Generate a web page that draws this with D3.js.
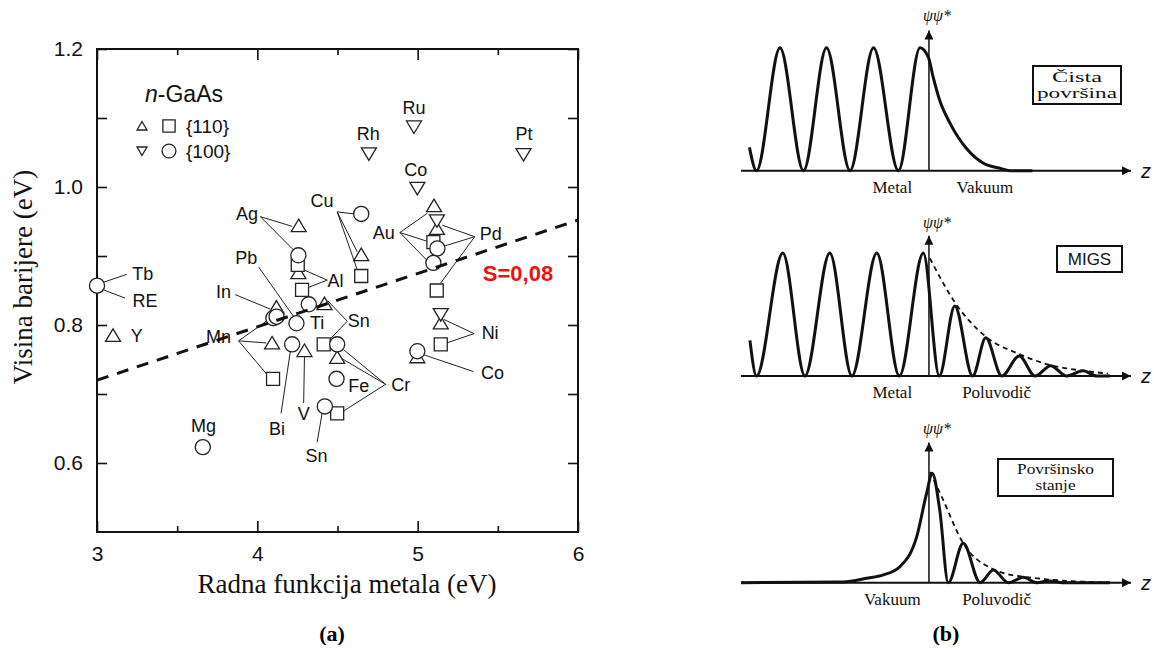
<!DOCTYPE html>
<html>
<head>
<meta charset="utf-8">
<script src="https://cdn.jsdelivr.net/npm/d3@7"></script>
<style>
  body { margin: 0; background: #fff; }
  svg { display: block; }
  .sans { font-family: 'Liberation Sans', Arial, sans-serif; }
  .serif { font-family: 'Liberation Serif', 'Times New Roman', serif; }
</style>
</head>
<body>
<script>
'use strict';

// ---------- panel (a): barrier height vs metal work function ----------
var xTicks = [3, 3.5, 4, 4.5, 5, 5.5, 6];
var xLabels = [3, 4, 5, 6];
var yTicks = [0.6, 0.7, 0.8, 0.9, 1.0, 1.1, 1.2];
var yLabels = [0.6, 0.8, 1.0, 1.2];

// {100} circles
var circles = [[3.0, 0.857], [3.66, 0.623], [4.256, 0.901], [4.321, 0.830], [4.10, 0.810],
  [4.12, 0.812], [4.244, 0.8025], [4.217, 0.772], [4.498, 0.772], [4.494, 0.722],
  [4.421, 0.682], [4.648, 0.961], [5.123, 0.911], [5.098, 0.890], [4.998, 0.762]];
// {110} squares
var squares = [[4.252, 0.887], [4.279, 0.851], [4.098, 0.722], [4.414, 0.772], [4.498, 0.672],
  [4.648, 0.871], [5.098, 0.920], [5.119, 0.850], [5.144, 0.772]];
// {110} triangles
var upTriangles = [[3.10, 0.785], [4.258, 0.944], [4.256, 0.876], [4.119, 0.826], [4.419, 0.831],
  [4.092, 0.774], [4.294, 0.763], [4.498, 0.753], [4.648, 0.902], [5.102, 0.973],
  [5.12, 0.940], [5.144, 0.803], [4.998, 0.754]];
// {100} triangles
var downTriangles = [[4.977, 1.087], [4.696, 1.048], [5.66, 1.047], [4.998, 0.998],
  [5.12, 0.951], [5.144, 0.815]];

var fitLine = [[3, 0.72], [6, 0.952]];

var labels = [['Tb', 3.286, 0.875], ['RE', 3.30, 0.835], ['Y', 3.248, 0.785], ['Ag', 3.936, 0.962],
  ['Cu', 4.404, 0.980], ['Pb', 3.931, 0.898], ['In', 3.789, 0.849], ['Al', 4.4875, 0.865],
  ['Ti', 4.373, 0.804], ['Sn', 4.633, 0.806], ['Mn', 3.758, 0.783], ['Bi', 4.123, 0.650],
  ['V', 4.289, 0.672], ['Sn', 4.369, 0.611], ['Fe', 4.633, 0.713], ['Cr', 4.894, 0.714],
  ['Au', 4.789, 0.934], ['Pd', 5.456, 0.932], ['Ni', 5.452, 0.789], ['Co', 5.467, 0.731],
  ['Co', 4.9875, 1.026], ['Ru', 4.977, 1.115], ['Rh', 4.692, 1.078], ['Pt', 5.664, 1.077],
  ['Mg', 3.664, 0.655]];

// leader lines: from label to each marker
var leaders = [
  [[3.029, 0.861], [[3.186, 0.8735]]],
  [[3.029, 0.852], [[3.175, 0.839]]],
  [[4.019, 0.957], [[4.217, 0.943], [4.2375, 0.906]]],
  [[4.498, 0.964], [[4.602, 0.961], [4.623, 0.906], [4.623, 0.880]]],
  [[4.008, 0.884], [[4.227, 0.812]]],
  [[3.8625, 0.844], [[4.081, 0.823]]],
  [[4.436, 0.865], [[4.289, 0.880], [4.3125, 0.854]]],
  [[4.561, 0.8055], [[4.439, 0.835], [4.456, 0.780]]],
  [[3.883, 0.777], [[4.071, 0.808], [4.056, 0.774], [4.061, 0.728]]],
  [[4.148, 0.672], [[4.206, 0.762]]],
  [[4.289, 0.687], [[4.294, 0.755]]],
  [[4.373, 0.630], [[4.404, 0.672]]],
  [[4.80, 0.714], [[4.539, 0.764], [4.529, 0.751], [4.529, 0.674]]],
  [[4.889, 0.934], [[5.061, 0.962], [5.064, 0.921], [5.061, 0.893]]],
  [[5.356, 0.928], [[5.154, 0.9445], [5.161, 0.914], [5.144, 0.861]]],
  [[5.352, 0.7875], [[5.164, 0.808], [5.181, 0.774]]],
  [[5.348, 0.7325], [[5.036, 0.757]]]
];

// ---------- panel (b): |psi|^2 sketches, z in lattice units, value relative to bulk peak ----------
var cleanCurve = [[-3.82, 0.19], [-3.67, 0], [-3.17, 1], [-2.67, 0], [-2.18, 1], [-1.68, 0],
  [-1.18, 1], [-0.65, 0], [-0.19, 1], [-0.01, 0.92], [0.09, 0.76], [0.23, 0.57], [0.45, 0.385],
  [0.80, 0.18], [1.16, 0.06], [1.51, 0.02], [1.72, 0], [2.2, 0]];
var migsCurve = [[-3.81, 0.29], [-3.67, 0], [-3.11, 1], [-2.64, 0], [-2.11, 1], [-1.64, 0],
  [-1.11, 1], [-0.63, 0], [-0.12, 1], [0.22, 0], [0.55, 0.57], [0.93, 0], [1.21, 0.31],
  [1.55, 0], [1.92, 0.163], [2.26, 0], [2.59, 0.084], [2.93, 0], [3.28, 0.043], [3.57, 0], [3.85, 0]];
var migsEnvelope = [[0.02, 0.957], [0.55, 0.60], [1.21, 0.32], [1.91, 0.18], [2.57, 0.09],
  [3.28, 0.043], [3.81, 0.02]];
var surfCurve = [[-4, 0], [-1.89, 0.005], [-1.33, 0.036], [-0.97, 0.063], [-0.62, 0.13],
  [-0.26, 0.374], [-0.05, 0.727], [0.07, 0.89], [0.23, 0.59], [0.41, 0], [0.73, 0.32], [1.09, 0],
  [1.37, 0.103], [1.69, 0], [2.01, 0.044], [2.29, 0], [2.57, 0.014], [2.85, 0], [3.85, 0]];
var surfEnvelope = [[0.02, 0.90], [0.27, 0.70], [0.73, 0.32], [1.37, 0.109], [2.0, 0.049], [3.85, 0]];

var W = 1154, H = 659;
var svg = d3.select('body').append('svg').attr('width', W).attr('height', H);

svg.append('defs').append('marker')
  .attr('id', 'arrow')
  .attr('viewBox', '0 0 10 10')
  .attr('refX', 10).attr('refY', 5)
  .attr('markerUnits', 'userSpaceOnUse')
  .attr('markerWidth', 11).attr('markerHeight', 9)
  .attr('orient', 'auto')
  .append('path').attr('d', 'M0,0L10,5L0,10Z').attr('fill', '#111');

// ===== panel (a) =====
var x = d3.scaleLinear().domain([3, 6]).range([97, 578]);
var y = d3.scaleLinear().domain([0.5, 1.2]).range([532, 49]);
var pa = svg.append('g');

var fmt = function (d) { return xLabels.indexOf(d) >= 0 ? String(d) : ''; };
var gx = pa.append('g').attr('class', 'sans').attr('transform', 'translate(0,532)')
  .call(d3.axisBottom(x).tickValues(xTicks).tickSize(-11).tickPadding(14).tickFormat(fmt));
var gxt = pa.append('g').attr('transform', 'translate(0,49)')
  .call(d3.axisTop(x).tickValues(xTicks).tickSize(-11).tickFormat(''));
[gx, gxt].forEach(function (g) {
  g.selectAll('.tick line')
    .filter(function (d) { return xLabels.indexOf(d) < 0; })
    .attr('y2', g === gx ? -6 : 6);
});
var gy = pa.append('g').attr('class', 'sans').attr('transform', 'translate(97,0)')
  .call(d3.axisLeft(y).tickValues(yTicks).tickSize(-10).tickPadding(14)
    .tickFormat(function (d) { return yLabels.indexOf(d) >= 0 ? d.toFixed(1) : ''; }));
var gyr = pa.append('g').attr('transform', 'translate(578,0)')
  .call(d3.axisRight(y).tickValues(yTicks).tickSize(-10).tickFormat(''));
[gx, gxt, gy, gyr].forEach(function (g) {
  g.select('.domain').remove();
  g.selectAll('.tick line').attr('stroke', '#111').attr('stroke-width', 1.6);
  g.selectAll('.tick text').attr('font-size', 21).attr('fill', '#111')
    .attr('font-family', "'Liberation Sans', Arial, sans-serif");
});

pa.append('rect')
  .attr('x', x(3)).attr('y', y(1.2))
  .attr('width', x(6) - x(3)).attr('height', y(0.5) - y(1.2))
  .attr('fill', 'none').attr('stroke', '#111').attr('stroke-width', 2);

// leader lines
leaders.forEach(function (l) {
  pa.selectAll(null).data(l[1]).enter().append('line')
    .attr('x1', x(l[0][0])).attr('y1', y(l[0][1]))
    .attr('x2', function (d) { return x(d[0]); })
    .attr('y2', function (d) { return y(d[1]); })
    .attr('stroke', '#222').attr('stroke-width', 1);
});

var triUp = { draw: function (c) { c.moveTo(0, -6.5); c.lineTo(7.5, 6); c.lineTo(-7.5, 6); c.closePath(); } };
var triDown = { draw: function (c) { c.moveTo(0, 6.5); c.lineTo(7.5, -6); c.lineTo(-7.5, -6); c.closePath(); } };

function drawMarks(data, type) {
  pa.selectAll(null).data(data).enter().append('path')
    .attr('d', type)
    .attr('transform', function (d) { return 'translate(' + x(d[0]) + ',' + y(d[1]) + ')'; })
    .attr('fill', '#fff').attr('stroke', '#222').attr('stroke-width', 1.3);
}
drawMarks(upTriangles, d3.symbol().type(triUp)());
drawMarks(downTriangles, d3.symbol().type(triDown)());
drawMarks(squares, d3.symbol().type(d3.symbolSquare).size(169)());
drawMarks(circles, d3.symbol().type(d3.symbolCircle).size(180)());

pa.append('path')
  .datum(fitLine)
  .attr('d', d3.line().x(function (d) { return x(d[0]); }).y(function (d) { return y(d[1]); }))
  .attr('fill', 'none').attr('stroke', '#111').attr('stroke-width', 3)
  .attr('stroke-dasharray', '12,9');

pa.selectAll('text.lbl').data(labels).enter().append('text')
  .attr('class', 'lbl sans')
  .attr('x', function (d) { return x(d[1]); })
  .attr('y', function (d) { return y(d[2]); })
  .attr('dy', '0.36em')
  .attr('text-anchor', 'middle')
  .attr('font-size', 18).attr('fill', '#111')
  .text(function (d) { return d[0]; });

// legend
var leg = pa.append('g').attr('class', 'sans');
var t = leg.append('text').attr('x', 145).attr('y', 102).attr('font-size', 23).attr('fill', '#111');
t.append('tspan').attr('font-style', 'italic').text('n');
t.append('tspan').text('-GaAs');
var smallUp = { draw: function (c) { c.moveTo(0, -4.5); c.lineTo(5, 4); c.lineTo(-5, 4); c.closePath(); } };
var smallDown = { draw: function (c) { c.moveTo(0, 4.5); c.lineTo(5, -4); c.lineTo(-5, -4); c.closePath(); } };
var legRows = [
  { y: 126, a: d3.symbol().type(smallUp)(), b: d3.symbol().type(d3.symbolSquare).size(150)(), txt: '{110}' },
  { y: 151, a: d3.symbol().type(smallDown)(), b: d3.symbol().type(d3.symbolCircle).size(150)(), txt: '{100}' }
];
legRows.forEach(function (r) {
  leg.append('path').attr('d', r.a).attr('transform', 'translate(142,' + r.y + ')')
    .attr('fill', '#fff').attr('stroke', '#222').attr('stroke-width', 1.3);
  leg.append('path').attr('d', r.b).attr('transform', 'translate(169,' + r.y + ')')
    .attr('fill', '#fff').attr('stroke', '#222').attr('stroke-width', 1.3);
  leg.append('text').attr('x', 186).attr('y', r.y).attr('dy', '0.36em')
    .attr('font-size', 19).attr('fill', '#111').text(r.txt);
});

pa.append('text').attr('class', 'sans')
  .attr('x', 518).attr('y', 273).attr('dy', '0.36em').attr('text-anchor', 'middle')
  .attr('font-size', 22).attr('font-weight', 'bold').attr('fill', '#ee1111')
  .text('S=0,08');

pa.append('text').attr('class', 'serif')
  .attr('x', 347).attr('y', 593).attr('text-anchor', 'middle')
  .attr('font-size', 27).attr('fill', '#111')
  .text('Radna funkcija metala (eV)');
pa.append('text').attr('class', 'serif')
  .attr('transform', 'translate(32,277) rotate(-90)').attr('text-anchor', 'middle')
  .attr('font-size', 27).attr('fill', '#111')
  .text('Visina barijere (eV)');

svg.append('text').attr('class', 'serif')
  .attr('x', 332).attr('y', 641).attr('text-anchor', 'middle')
  .attr('font-size', 22).attr('font-weight', 'bold').text('(a)');
svg.append('text').attr('class', 'serif')
  .attr('x', 946).attr('y', 641).attr('text-anchor', 'middle')
  .attr('font-size', 22).attr('font-weight', 'bold').text('(b)');

// ===== panel (b) =====
var z = d3.scaleLinear().domain([-4, 4.3]).range([741, 1131]);

var panels = [
  { base: 170.7, curve: cleanCurve, env: null, left: 'Metal', right: 'Vakuum',
    box: [1033, 66, 88, 38], boxText: ['Čista', 'površina'], widths: [50, 80], boxFont: 'serif', psiY: 15 },
  { base: 376, curve: migsCurve, env: migsEnvelope, left: 'Metal', right: 'Poluvodič',
    box: [1057, 246, 65, 26], boxText: ['MIGS'], widths: null, boxFont: 'sans', psiY: 222 },
  { base: 582.7, curve: surfCurve, env: surfEnvelope, left: 'Vakuum', right: 'Poluvodič',
    box: [998, 459, 115, 37], boxText: ['Površinsko', 'stanje'], widths: [77, 40], boxFont: 'serif', psiY: 428 }
];

panels.forEach(function (p) {
  var v = d3.scaleLinear().domain([0, 1]).range([p.base, p.base - 123]);
  var g = svg.append('g');
  var line = d3.line()
    .x(function (d) { return z(d[0]); })
    .y(function (d) { return v(d[1]); })
    .curve(d3.curveMonotoneX);

  g.append('line')
    .attr('x1', z(-4)).attr('x2', z(4.3)).attr('y1', v(0)).attr('y2', v(0))
    .attr('stroke', '#111').attr('stroke-width', 2).attr('marker-end', 'url(#arrow)');
  g.append('line')
    .attr('x1', z(0)).attr('x2', z(0)).attr('y1', v(0)).attr('y2', v(1.14))
    .attr('stroke', '#111').attr('stroke-width', 1.5).attr('marker-end', 'url(#arrow)');

  if (p.env) {
    g.append('path').datum(p.env).attr('d', line)
      .attr('fill', 'none').attr('stroke', '#111').attr('stroke-width', 1.8)
      .attr('stroke-dasharray', '5,4');
  }
  g.append('path').datum(p.curve).attr('d', line)
    .attr('fill', 'none').attr('stroke', '#111').attr('stroke-width', 3);

  g.append('text').attr('class', 'sans')
    .attr('x', 1146).attr('y', v(0)).attr('dy', '0.36em').attr('text-anchor', 'middle')
    .attr('font-size', 20).attr('font-style', 'italic').attr('fill', '#111').text('z');
  g.append('text').attr('class', 'serif')
    .attr('x', 937).attr('y', p.psiY).attr('dy', '0.36em').attr('text-anchor', 'middle')
    .attr('font-size', 16).attr('font-style', 'italic').attr('fill', '#111').text('ψψ*');

  g.append('text').attr('class', 'serif')
    .attr('x', z(-0.78)).attr('y', v(0) + 22).attr('text-anchor', 'middle')
    .attr('font-size', 17).attr('fill', '#111').text(p.left);
  g.append('text').attr('class', 'serif')
    .attr('x', z(p.right === 'Vakuum' ? 1.19 : 1.44)).attr('y', v(0) + 22).attr('text-anchor', 'middle')
    .attr('font-size', 17).attr('fill', '#111').text(p.right);

  g.append('rect')
    .attr('x', p.box[0]).attr('y', p.box[1]).attr('width', p.box[2]).attr('height', p.box[3])
    .attr('fill', '#fff').attr('stroke', '#111').attr('stroke-width', 2);
  var cx = p.box[0] + p.box[2] / 2;
  var n = p.boxText.length;
  p.boxText.forEach(function (s, i) {
    var ty = p.box[1] + p.box[3] / 2 + (i - (n - 1) / 2) * 16;
    var el = g.append('text').attr('class', p.boxFont)
      .attr('x', cx).attr('y', ty).attr('dy', '0.33em').attr('text-anchor', 'middle')
      .attr('font-size', n > 1 ? 14 : 17).attr('fill', '#111').text(s);
    if (p.widths) {
      el.attr('textLength', p.widths[i]).attr('lengthAdjust', 'spacingAndGlyphs');
    }
  });
});
</script>
</body>
</html>
